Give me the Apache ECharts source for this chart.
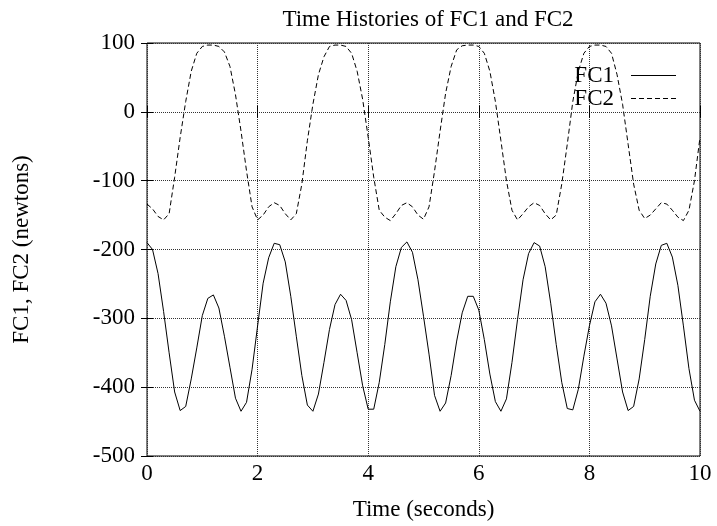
<!DOCTYPE html>
<html>
<head>
<meta charset="utf-8">
<script src="https://cdn.jsdelivr.net/npm/echarts@6/dist/echarts.min.js"></script>
<style>
  html, body { margin: 0; padding: 0; background: #fff; }
  #chart { width: 717px; height: 526px; }
</style>
</head>
<body>
<div id="chart"></div>
<script>
// samples every 0.1 s, t = 0 .. 10
const fc1 = [
  -190, -200, -235, -290, -350, -407, -434, -428, -388, -343,
  -296, -271, -266, -285, -326, -371, -416, -435, -422, -374,
  -311, -249, -212, -191, -193, -218, -268, -326, -383, -426,
  -435, -410, -364, -316, -280, -265, -274, -302, -350, -398,
  -432, -432, -393, -338, -276, -225, -197, -189, -204, -244,
  -297, -352, -412, -435, -423, -383, -333, -292, -268, -268,
  -288, -331, -381, -421, -435, -417, -364, -302, -244, -206,
  -190, -195, -225, -278, -338, -393, -431, -433, -403, -355,
  -311, -276, -265, -278, -311, -359, -407, -434, -428, -388,
  -331, -268, -221, -194, -191, -211, -252, -311, -373, -419,
  -435
];
const fc2 = [
  -134, -141, -152, -157, -148, -95, -37, 15, 59, 85,
  95, 97, 97, 95, 87, 66, 25, -28, -86, -138,
  -157, -150, -138, -132, -136, -148, -157, -148, -105, -42,
  11, 54, 80, 95, 97, 97, 95, 85, 59, 18,
  -37, -95, -143, -153, -158, -148, -136, -132, -138, -150,
  -156, -138, -86, -28, 27, 66, 90, 96, 97, 97,
  95, 85, 59, 15, -42, -100, -143, -157, -148, -138,
  -132, -136, -148, -157, -150, -105, -47, 15, 59, 85,
  95, 97, 97, 95, 85, 54, 11, -47, -105, -143,
  -155, -150, -141, -132, -134, -143, -153, -158, -143, -100,
  -37
];
const seriesNames = ["FC1", "FC2"];

const font = "Liberation Serif";

var pairs = function (vals) {
  var res = [];
  for (var i = 0; i < vals.length; i++) {
    res.push([i / 10, vals[i]]);
  }
  return res;
};

// legend samples: a solid stroke and a dashed one
const solidIcon = "path://M0,0h45v1h-45z";
const dashIcon =
  "path://M0,0h5v1h-5zM8,0h5v1h-5zM16,0h5v1h-5zM24,0h5v1h-5zM32,0h5v1h-5zM40,0h5v1h-5z";

const mirrorAxis = {
  axisLine: { show: false },
  axisTick: { show: true, inside: true, length: 6, lineStyle: { color: "#000" } },
  axisLabel: { show: false },
  splitLine: { show: false }
};

const option = {
  animation: false,
  backgroundColor: "#fff",
  textStyle: { fontFamily: font },
  title: {
    text: "Time Histories of FC1 and FC2",
    left: 423,
    textAlign: "center",
    top: 3,
    textStyle: { fontFamily: font, fontSize: 23, fontWeight: "normal", color: "#000" }
  },
  legend: {
    data: [
      { name: seriesNames[0], icon: solidIcon },
      { name: seriesNames[1], icon: dashIcon }
    ],
    orient: "vertical",
    right: 36,
    top: 59,
    align: "right",
    itemWidth: 45,
    itemHeight: 1,
    itemGap: 0,
    itemStyle: { color: "#000" },
    textStyle: { fontFamily: font, fontSize: 23, color: "#000", lineHeight: 22, padding: [0, 12, 0, 0] }
  },
  grid: {
    left: 147,
    right: 17,
    top: 43,
    bottom: 68,
    show: true,
    borderColor: "#000",
    borderWidth: 1
  },
  xAxis: [
    {
      type: "value",
      min: 0,
      max: 10,
      interval: 2,
      name: "Time (seconds)",
      nameLocation: "middle",
      nameGap: 42,
      nameTextStyle: { fontFamily: font, fontSize: 23, color: "#000" },
      axisLine: { show: false },
      axisTick: { show: true, inside: true, length: 6, lineStyle: { color: "#000" } },
      axisLabel: { fontFamily: font, fontSize: 23, color: "#000", margin: 6 },
      splitLine: { show: true, lineStyle: { color: "#333", type: "dotted", width: 1 } }
    },
    Object.assign({ type: "value", position: "top", min: 0, max: 10, interval: 2 }, mirrorAxis)
  ],
  yAxis: [
    {
      type: "value",
      min: -500,
      max: 100,
      interval: 100,
      name: "FC1, FC2 (newtons)",
      nameLocation: "middle",
      nameGap: 114,
      nameTextStyle: { fontFamily: font, fontSize: 23, color: "#000" },
      axisLine: { show: false },
      axisTick: { show: true, inside: true, length: 6, lineStyle: { color: "#000" } },
      axisLabel: { fontFamily: font, fontSize: 23, color: "#000", margin: 12 },
      splitLine: { show: true, lineStyle: { color: "#333", type: "dotted", width: 1 } }
    },
    Object.assign({ type: "value", position: "right", min: -500, max: 100, interval: 100 }, mirrorAxis)
  ],
  series: [
    {
      name: seriesNames[0],
      type: "line",
      data: pairs(fc1),
      symbol: "none",
      lineStyle: { color: "#000", width: 1 },
      itemStyle: { color: "#000" }
    },
    {
      name: seriesNames[1],
      type: "line",
      data: pairs(fc2),
      symbol: "none",
      lineStyle: { color: "#000", width: 1, type: [5, 3] },
      itemStyle: { color: "#000" }
    }
  ]
};

var chartDom = document.getElementById("chart");
var myChart = echarts.init(chartDom);
option && myChart.setOption(option);
</script>
</body>
</html>
